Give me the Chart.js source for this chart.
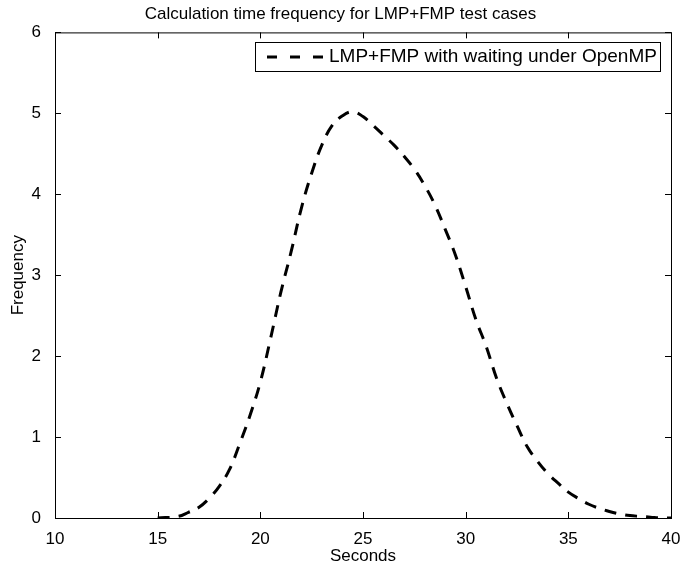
<!DOCTYPE html>
<html>
<head>
<meta charset="utf-8">
<script src="https://cdn.jsdelivr.net/npm/chart.js@4/dist/chart.umd.min.js"></script>
<style>
    html, body { margin: 0; padding: 0; background: #fff; }
    #wrap { width: 681px; height: 571px; }
</style>
</head>
<body>
<div id="wrap"><canvas id="freqChart" width="681" height="571"></canvas></div>
<script>
// Data
const seconds = [15, 16, 16.5, 17, 17.5, 18, 18.5, 19, 19.5, 20, 20.5, 21, 21.5, 22, 22.5, 23, 23.5, 24, 24.5,
    25, 25.5, 26, 26.5, 27, 27.5, 28, 28.5, 29, 29.5, 30, 30.5, 31, 31.5, 32, 32.5, 33, 33.5, 34, 34.5,
    35, 35.5, 36, 36.5, 37, 37.5, 38, 38.5, 39, 39.5, 40];
const frequency = [0, 0.02, 0.07, 0.13, 0.24, 0.39, 0.6, 0.92, 1.27, 1.68, 2.22, 2.79, 3.29, 3.83, 4.26, 4.61, 4.85, 4.97, 5.02,
    4.96, 4.85, 4.73, 4.61, 4.47, 4.31, 4.11, 3.87, 3.57, 3.25, 2.86, 2.45, 2.12, 1.73, 1.42, 1.14, 0.88, 0.7, 0.55, 0.43,
    0.32, 0.24, 0.17, 0.12, 0.08, 0.05, 0.03, 0.02, 0.01, 0, 0];
const xTicks = [10, 15, 20, 25, 30, 35, 40];
const yTicks = [0, 1, 2, 3, 4, 5, 6];
const seriesLabel = 'LMP+FMP with waiting under OpenMP';

const FONT = '"Liberation Sans", Arial, sans-serif';

// Matlab style box with inward ticks on all four sides, plus the legend box
const matlabFrame = {
    id: 'matlabFrame',
    afterDatasetsDraw(chart) {
        const { ctx, chartArea: a, scales } = chart;
        const tick = 6;
        ctx.save();
        ctx.strokeStyle = '#000';
        ctx.lineWidth = 1;
        ctx.setLineDash([]);
        ctx.strokeRect(a.left + 0.5, a.top + 0.5, a.right - a.left, a.bottom - a.top);

        ctx.beginPath();
        xTicks.forEach(v => {
            const px = Math.round(scales.x.getPixelForValue(v)) + 0.5;
            ctx.moveTo(px, a.bottom); ctx.lineTo(px, a.bottom - tick);
            ctx.moveTo(px, a.top); ctx.lineTo(px, a.top + tick);
        });
        yTicks.forEach(v => {
            const py = Math.round(scales.y.getPixelForValue(v)) + 0.5;
            ctx.moveTo(a.left, py); ctx.lineTo(a.left + tick, py);
            ctx.moveTo(a.right, py); ctx.lineTo(a.right - tick, py);
        });
        ctx.stroke();

        // legend
        const bx = 255, by = 42, bw = 405, bh = 29;
        ctx.fillStyle = '#fff';
        ctx.fillRect(bx, by, bw, bh);
        ctx.strokeRect(bx + 0.5, by + 0.5, bw, bh);
        const ly = by + bh / 2 + 0.5;
        ctx.beginPath();
        ctx.lineWidth = 3;
        ctx.setLineDash([10, 13]);
        ctx.moveTo(267, ly);
        ctx.lineTo(323, ly);
        ctx.stroke();
        ctx.setLineDash([]);
        ctx.fillStyle = '#000';
        ctx.font = '19px ' + FONT;
        ctx.textBaseline = 'middle';
        ctx.textAlign = 'left';
        ctx.fillText(seriesLabel, 329, ly);
        ctx.restore();
    }
};

const ctx = document.getElementById('freqChart').getContext('2d');
const freqChart = new Chart(ctx, {
    type: 'line',
    data: {
        datasets: [{
            label: seriesLabel,
            data: seconds.map((s, i) => ({ x: s, y: frequency[i] })),
            borderColor: '#000',
            borderWidth: 3,
            borderDash: [12, 9],
            pointRadius: 0,
            fill: false,
            tension: 0.4
        }]
    },
    options: {
        responsive: false,
        animation: false,
        devicePixelRatio: 1,
        layout: { padding: { left: 0, right: 0, top: 0, bottom: 0 } },
        plugins: {
            legend: { display: false },
            tooltip: { enabled: false },
            title: {
                display: true,
                text: 'Calculation time frequency for LMP+FMP test cases',
                color: '#000',
                font: { family: FONT, size: 17, weight: 'normal' },
                padding: { top: 4, bottom: 8 }
            }
        },
        scales: {
            x: {
                type: 'linear',
                min: 10,
                max: 40,
                afterBuildTicks: scale => { scale.ticks = xTicks.map(v => ({ value: v })); },
                afterFit: scale => { scale.height = 53; scale.paddingRight = 10; },
                grid: { display: false },
                border: { display: false },
                ticks: {
                    color: '#000',
                    font: { family: FONT, size: 17 },
                    padding: 3,
                    maxRotation: 0
                },
                title: {
                    display: true,
                    text: 'Seconds',
                    color: '#000',
                    font: { family: FONT, size: 17 },
                    padding: { top: 0, bottom: 4 }
                }
            },
            y: {
                min: 0,
                max: 6,
                afterBuildTicks: scale => { scale.ticks = yTicks.map(v => ({ value: v })); },
                afterFit: scale => { scale.width = 55; },
                grid: { display: false },
                border: { display: false },
                ticks: {
                    color: '#000',
                    font: { family: FONT, size: 17 },
                    padding: 6
                },
                title: {
                    display: true,
                    text: 'Frequency',
                    color: '#000',
                    font: { family: FONT, size: 17 },
                    padding: { top: 8, bottom: 0 }
                }
            }
        }
    },
    plugins: [matlabFrame]
});
</script>
</body>
</html>
